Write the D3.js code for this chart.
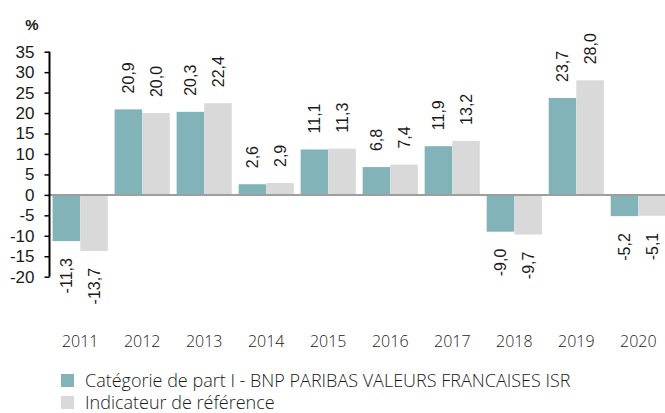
<!DOCTYPE html>
<html lang="fr">
<head>
<meta charset="UTF-8">
<title>Performances annuelles</title>
<script src="https://d3js.org/d3.v7.min.js"></script>
<style>
  body { margin: 0; background: #fff; }
  svg { display: block; }
</style>
</head>
<body>
<div id="chart"></div>
<script>
// données
const years = ["2011", "2012", "2013", "2014", "2015", "2016", "2017", "2018", "2019", "2020"];
const fundValues = [-11.3, 20.9, 20.3, 2.6, 11.1, 6.8, 11.9, -9.0, 23.7, -5.2];
const benchValues = [-13.7, 20.0, 22.4, 2.9, 11.3, 7.4, 13.2, -9.7, 28.0, -5.1];
const seriesNames = ["Catégorie de part I - BNP PARIBAS VALEURS FRANCAISES ISR", "Indicateur de référence"];
const seriesColors = ["#82b3b9", "#d9d9d9"];
const yTicks = [35, 30, 25, 20, 15, 10, 5, 0, -5, -10, -15, -20];

const w = 665, h = 413;
const svg = d3.select("#chart").append("svg").attr("width", w).attr("height", h);

const x0 = d3.scaleBand().domain(years).range([49.5, 669]).paddingInner(0.11).paddingOuter(0.05);
const x1 = d3.scaleBand().domain([0, 1]).range([0, x0.bandwidth()]);
const y = d3.scaleLinear().domain([-20, 35]).range([276.7, 51.7]);

const fmt = v => d3.format(".1f")(v).replace(".", ",").replace("−", "-");

// barres
const rows = years.map((yr, i) => ({ year: yr, vals: [fundValues[i], benchValues[i]] }));
const groups = svg.selectAll("g.grp").data(rows).enter().append("g")
  .attr("class", "grp")
  .attr("transform", d => `translate(${x0(d.year)},0)`);

groups.selectAll("rect").data(d => d.vals.map((v, k) => ({ v, k }))).enter().append("rect")
  .attr("x", d => x1(d.k))
  .attr("width", x1.bandwidth())
  .attr("y", d => y(Math.max(0, d.v)))
  .attr("height", d => Math.abs(y(d.v) - y(0)))
  .attr("fill", d => seriesColors[d.k]);

// étiquettes des valeurs
groups.selectAll("text").data(d => d.vals.map((v, k) => ({ v, k }))).enter().append("text")
  .attr("transform", d => {
    const cx = x1(d.k) + x1.bandwidth() / 2;
    const cy = d.v >= 0 ? y(d.v) - 16 : y(d.v) + 17;
    return `translate(${cx},${cy}) rotate(-90)`;
  })
  .attr("text-anchor", d => d.v >= 0 ? "start" : "end")
  .attr("dy", "0.35em")
  .style("font-family", "'Liberation Sans', Arial, sans-serif")
  .style("font-size", "16px")
  .style("fill", "#1a1a1a")
  .text(d => fmt(d.v));

// ligne zéro
svg.append("line")
  .attr("x1", 49.5).attr("x2", w)
  .attr("y1", y(0)).attr("y2", y(0))
  .attr("stroke", "#9e9e9e").attr("stroke-width", 2);

// axe Y
const yAxis = d3.axisLeft(y).tickValues(yTicks).tickSize(5).tickPadding(10).tickFormat(d => String(d));
const gy = svg.append("g").attr("transform", "translate(49.5,0)").call(yAxis);
gy.select(".domain").attr("stroke", "#000").attr("stroke-width", 2).attr("d", `M0,${y(35)}V${y(-20)}`);
gy.selectAll(".tick line").attr("stroke", "#000").attr("stroke-width", 1.5);
gy.selectAll(".tick text")
  .style("font-family", "'Liberation Sans', Arial, sans-serif")
  .style("font-size", "17px")
  .style("fill", "#1a1a1a");

svg.append("text")
  .attr("x", 32).attr("y", 30)
  .attr("text-anchor", "middle")
  .style("font-family", "'Liberation Sans', Arial, sans-serif")
  .style("font-size", "15px")
  .style("font-weight", "bold")
  .style("fill", "#1a1a1a")
  .text("%");

// années
svg.selectAll("text.year").data(years).enter().append("text")
  .attr("class", "year")
  .attr("x", d => x0(d) + x0.bandwidth() / 2)
  .attr("y", 346.5)
  .attr("text-anchor", "middle")
  .style("font-family", "'Open Sans', sans-serif")
  .style("font-size", "16px")
  .style("font-weight", 300)
  .style("fill", "#1a1a1a")
  .text(d => d);

// légende
const leg = svg.selectAll("g.leg").data(seriesNames).enter().append("g")
  .attr("class", "leg")
  .attr("transform", (d, i) => `translate(61,${374 + i * 22})`);
leg.append("rect").attr("width", 13).attr("height", 13).attr("fill", (d, i) => seriesColors[i]);
leg.append("text")
  .attr("x", 24).attr("y", 13)
  .style("font-family", "'Open Sans', sans-serif")
  .style("font-size", "18px")
  .style("font-weight", 300)
  .style("fill", "#1a1a1a")
  .text(d => d);
</script>
</body>
</html>
